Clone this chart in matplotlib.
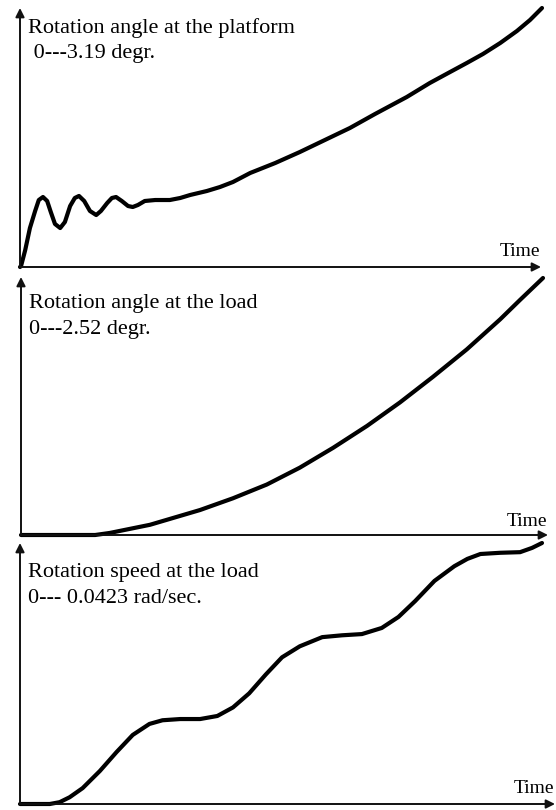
import matplotlib
matplotlib.use("Agg")
import matplotlib.pyplot as plt

# ---------------- data ----------------
# Panel 1: rotation angle at the platform, 0 ... 3.19 degr.
t_platform = [0.000, 0.002, 0.010, 0.019, 0.029, 0.036, 0.044, 0.052, 0.059, 0.067, 0.077,
              0.086, 0.096, 0.105, 0.113, 0.123, 0.134, 0.146, 0.155, 0.167, 0.176, 0.184,
              0.195, 0.207, 0.216, 0.226, 0.239, 0.259, 0.287, 0.307, 0.326, 0.358, 0.383,
              0.408, 0.441, 0.489, 0.536, 0.584, 0.632, 0.680, 0.741, 0.785, 0.824, 0.856,
              0.887, 0.920, 0.952, 0.977, 1.000]
v_platform = [0.000, 0.012, 0.209, 0.480, 0.690, 0.825, 0.862, 0.813, 0.677, 0.530, 0.480,
              0.554, 0.751, 0.850, 0.875, 0.813, 0.690, 0.640, 0.690, 0.788, 0.850, 0.862,
              0.813, 0.751, 0.739, 0.764, 0.813, 0.825, 0.825, 0.850, 0.887, 0.936, 0.985,
              1.047, 1.158, 1.281, 1.416, 1.564, 1.712, 1.884, 2.094, 2.266, 2.402, 2.513,
              2.624, 2.759, 2.907, 3.042, 3.190]

# Panel 2: rotation angle at the load, 0 ... 2.52 degr.
t_load_angle = [0.000, 0.142, 0.170, 0.247, 0.343, 0.406, 0.471, 0.534, 0.598, 0.663,
                0.726, 0.789, 0.854, 0.918, 0.956, 1.000]
v_load_angle = [0.000, 0.000, 0.020, 0.100, 0.245, 0.360, 0.495, 0.660, 0.855, 1.070,
                1.300, 1.550, 1.820, 2.115, 2.305, 2.520]

# Panel 3: rotation speed at the load, 0 ... 0.0423 rad/sec.
t_load_speed = [0.000, 0.057, 0.076, 0.095, 0.120, 0.153, 0.185, 0.216, 0.248, 0.273,
                0.307, 0.345, 0.378, 0.408, 0.439, 0.471, 0.502, 0.536, 0.579, 0.617,
                0.655, 0.693, 0.725, 0.757, 0.794, 0.832, 0.857, 0.882, 0.920, 0.958,
                0.981, 1.000]
v_load_speed = [0.0000, 0.0000, 0.0003, 0.0011, 0.0026, 0.0054, 0.0085, 0.0113, 0.0131,
                0.0137, 0.0139, 0.0139, 0.0144, 0.0158, 0.0181, 0.0212, 0.0240, 0.0258,
                0.0273, 0.0276, 0.0278, 0.0288, 0.0306, 0.0332, 0.0365, 0.0389, 0.0401,
                0.0409, 0.0411, 0.0412, 0.0419, 0.0427]

titles = ["Rotation angle at the platform", "Rotation angle at the load",
          "Rotation speed at the load"]
ranges = [" 0---3.19 degr.", "0---2.52 degr.", "0--- 0.0423 rad/sec."]
xlabel = "Time"

# ---------------- layout (pixels in a 556x810 canvas) ----------------
W, H = 556, 810
panels = [
    dict(left=20, base=267, right=541, top=8, cend=542, ctop=8, tb=33, rb=58, time_b=256),
    dict(left=21, base=535, right=548, top=277, cend=543, ctop=278, tb=308, rb=334, time_b=526),
    dict(left=20, base=804, right=555, top=543, cend=542, ctop=543, tb=577, rb=603, time_b=793),
]
series = [(t_platform, v_platform), (t_load_angle, v_load_angle), (t_load_speed, v_load_speed)]

plt.rcParams['font.family'] = ['Liberation Serif', 'DejaVu Serif']
fig = plt.figure(figsize=(W / 100, H / 100), dpi=100)
fig.patch.set_facecolor('white')
FS = 16

for p, (t, v), title, rng in zip(panels, series, titles, ranges):
    ax = fig.add_axes([p['left'] / W, (H - p['base']) / H,
                       (p['right'] - p['left']) / W, (p['base'] - p['top']) / H])
    vmax = max(v)
    xmax = (p['right'] - p['left']) / (p['cend'] - p['left'])
    ymax = vmax * (p['base'] - p['top']) / (p['base'] - p['ctop'])
    ax.set_xlim(0, xmax)
    ax.set_ylim(0, ymax)
    ax.axis('off')
    ax.plot(t, v, color='black', lw=3.0, solid_joinstyle='round',
            solid_capstyle='round', clip_on=False, zorder=3)
    ap = dict(arrowstyle='-|>', lw=1.4, color='#111111', mutation_scale=13,
              shrinkA=0, shrinkB=0)
    ax.annotate('', xy=(1, 0), xytext=(0, 0), xycoords='axes fraction',
                textcoords='axes fraction', arrowprops=ap, annotation_clip=False)
    ax.annotate('', xy=(0, 1), xytext=(0, 0), xycoords='axes fraction',
                textcoords='axes fraction', arrowprops=ap, annotation_clip=False)
    fig.text((p['left'] + 8) / W, 1 - p['tb'] / H, title, fontsize=FS,
             va='baseline', ha='left', color='black')
    fig.text((p['left'] + 8) / W, 1 - p['rb'] / H, rng, fontsize=FS,
             va='baseline', ha='left', color='black')
    fig.text((p['right'] - 1) / W, 1 - p['time_b'] / H, xlabel, fontsize=FS - 2,
             va='baseline', ha='right', color='black')

fig.savefig('out.png', dpi=100, facecolor='white')
